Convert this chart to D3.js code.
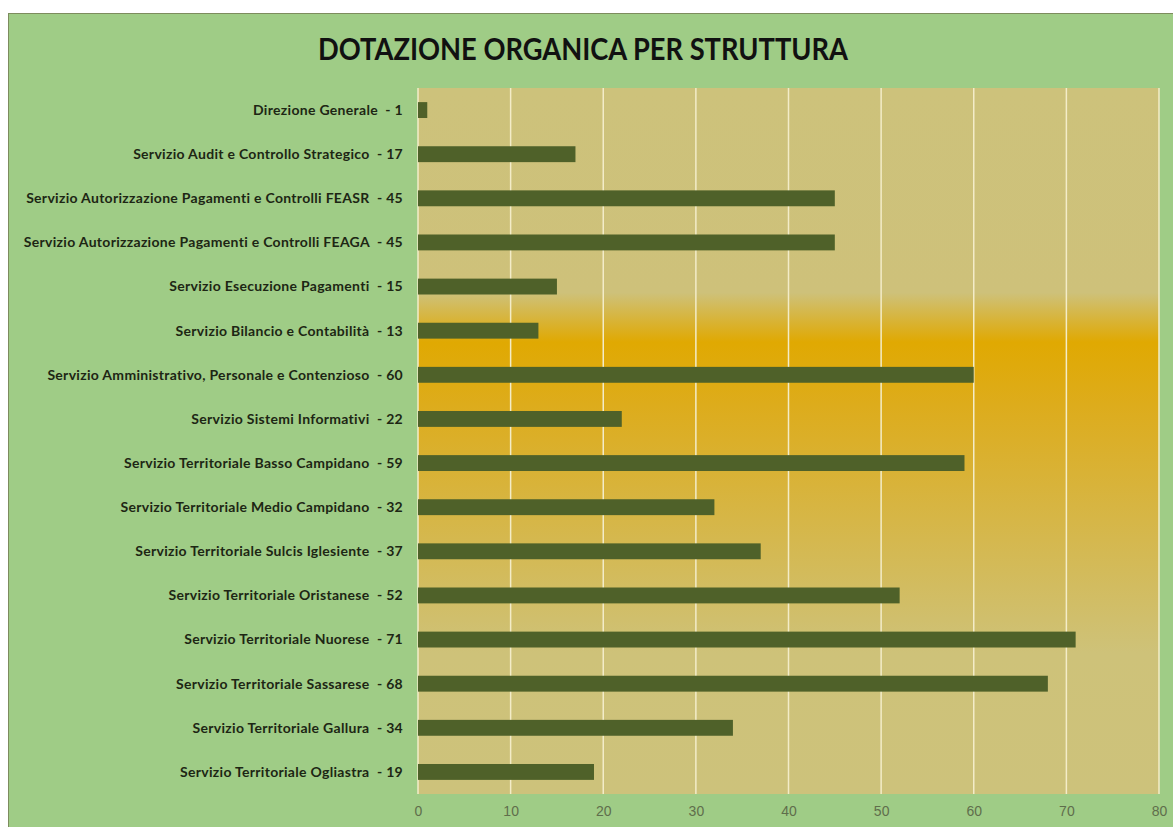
<!DOCTYPE html>
<html>
<head>
<meta charset="utf-8">
<script src="https://cdn.jsdelivr.net/npm/d3@7"></script>
<style>
    body { margin: 0; background: #fff; }
    svg { display: block; font-family: Lato, "Open Sans", sans-serif; }
    .y-label { font-size: 14px; font-weight: bold; fill: #1d2614; letter-spacing: 0.3px; white-space: pre; }
    .x-axis text { font-size: 14px; fill: #5f6e4c; }
</style>
</head>
<body>
<svg width="1173" height="827"></svg>
<script>
const strutture = [
    'Direzione Generale',
    'Servizio Audit e Controllo Strategico',
    'Servizio Autorizzazione Pagamenti e Controlli FEASR',
    'Servizio Autorizzazione Pagamenti e Controlli FEAGA',
    'Servizio Esecuzione Pagamenti',
    'Servizio Bilancio e Contabilità',
    'Servizio Amministrativo, Personale e Contenzioso',
    'Servizio Sistemi Informativi',
    'Servizio Territoriale Basso Campidano',
    'Servizio Territoriale Medio Campidano',
    'Servizio Territoriale Sulcis Iglesiente',
    'Servizio Territoriale Oristanese',
    'Servizio Territoriale Nuorese',
    'Servizio Territoriale Sassarese',
    'Servizio Territoriale Gallura',
    'Servizio Territoriale Ogliastra'
]
const dotazione = [1, 17, 45, 45, 15, 13, 60, 22, 59, 32, 37, 52, 71, 68, 34, 19]
const ticks = [0, 10, 20, 30, 40, 50, 60, 70, 80]
const titolo = 'DOTAZIONE ORGANICA PER STRUTTURA'

let data = strutture.map((s, i) => ({ name: s, value: dotazione[i] }))

let svg = d3.select('svg')
let plot = { left: 418, top: 88, right: 1159, bottom: 794 }

// chart background
svg.append('rect')
    .attr('x', 8.5).attr('y', 13.5)
    .attr('width', 1180).attr('height', 830)
    .attr('fill', '#9fcc86')
    .attr('stroke', '#7d8c5e')

// plot area gradient
let grad = svg.append('defs').append('linearGradient')
    .attr('id', 'plotbg')
    .attr('x1', 0).attr('y1', 0).attr('x2', 0).attr('y2', 1)
grad.append('stop').attr('offset', '0%').attr('stop-color', '#cdc27b')
grad.append('stop').attr('offset', '29%').attr('stop-color', '#cec17a')
grad.append('stop').attr('offset', '36%').attr('stop-color', '#e0a902')
grad.append('stop').attr('offset', '45%').attr('stop-color', '#ddac1c')
grad.append('stop').attr('offset', '80%').attr('stop-color', '#cec279')
grad.append('stop').attr('offset', '100%').attr('stop-color', '#cdc27b')

svg.append('rect')
    .attr('x', plot.left).attr('y', plot.top)
    .attr('width', plot.right - plot.left).attr('height', plot.bottom - plot.top)
    .attr('fill', 'url(#plotbg)')

let scale = {
    x: d3.scaleLinear().domain([0, 80]).range([plot.left, plot.right]),
    y: d3.scaleBand().domain(data.map(d => d.name)).range([plot.top, plot.bottom]).paddingInner(0.64).paddingOuter(0.32)
}

// gridlines
svg.append('g')
    .selectAll('line')
    .data(ticks)
    .enter()
    .append('line')
    .attr('x1', d => scale.x(d)).attr('x2', d => scale.x(d))
    .attr('y1', plot.top).attr('y2', plot.bottom)
    .attr('stroke', '#f3ecc8')
    .attr('stroke-width', 1.5)

// x axis
let xAxis = svg.append('g')
    .attr('class', 'x-axis')
    .attr('transform', `translate(0,${plot.bottom})`)
    .call(d3.axisBottom(scale.x).tickValues(ticks).tickSize(0).tickPadding(12))
xAxis.select('.domain').remove()

// bars
svg.selectAll('.bar')
    .data(data)
    .enter()
    .append('rect')
    .attr('class', 'bar')
    .attr('x', scale.x(0))
    .attr('y', d => scale.y(d.name))
    .attr('width', d => scale.x(d.value) - scale.x(0))
    .attr('height', scale.y.bandwidth())
    .attr('fill', '#4f6129')

// category labels
svg.selectAll('.y-label')
    .data(data)
    .enter()
    .append('text')
    .attr('class', 'y-label')
    .attr('x', 403)
    .attr('y', d => scale.y(d.name) + scale.y.bandwidth() / 2)
    .attr('dy', '0.35em')
    .attr('text-anchor', 'end')
    .text(d => `${d.name}  - ${d.value}`)

// title
svg.append('text')
    .attr('x', 318)
    .attr('y', 60)
    .attr('font-size', 30)
    .attr('font-weight', 'bold')
    .attr('fill', '#111')
    .attr('textLength', 530)
    .attr('lengthAdjust', 'spacingAndGlyphs')
    .text(titolo)
</script>
</body>
</html>
